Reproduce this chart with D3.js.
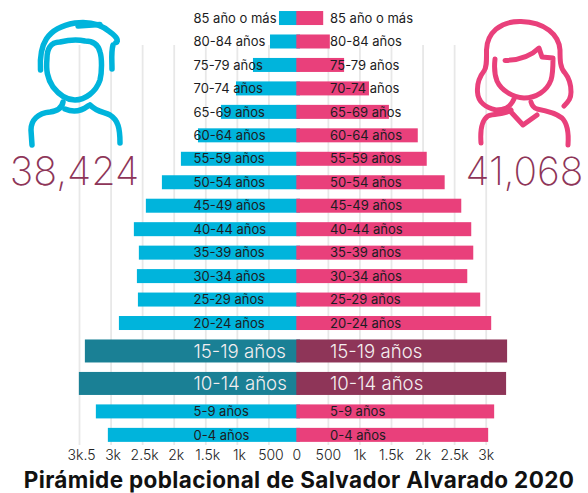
<!DOCTYPE html>
<html>
<head>
<meta charset="utf-8">
<script src="https://cdn.jsdelivr.net/npm/d3@7"></script>
<style>
html, body { margin: 0; padding: 0; background: #fff; }
svg { display: block; font-family: Inter, sans-serif; }
</style>
</head>
<body>
<svg width="588" height="493"></svg>
<script>
// Age groups, top of the pyramid first
var categories = ["85 año o más", "80-84 años", "75-79 años", "70-74 años", "65-69 años", "60-64 años",
    "55-59 años", "50-54 años", "45-49 años", "40-44 años", "35-39 años", "30-34 años",
    "25-29 años", "20-24 años", "15-19 años", "10-14 años", "5-9 años", "0-4 años"];
var men = [333, 475, 745, 1014, 1252, 1616, 1886, 2187, 2441, 2631, 2552, 2583, 2567, 2868, 3407, 3502, 3233, 3043];
var women = [426, 531, 757, 1151, 1467, 1924, 2066, 2350, 2613, 2771, 2803, 2708, 2913, 3087, 3339, 3323, 3134, 3039];
var highlighted = ["15-19 años", "10-14 años"];

var leftTicks = [500, 1000, 1500, 2000, 2500, 3000, 3500];
var leftTickLabels = ["500", "1k", "1.5k", "2k", "2.5k", "3k", "3k.5"];
var rightTicks = [0, 500, 1000, 1500, 2000, 2500, 3000];
var rightTickLabels = ["0", "500", "1k", "1.5k", "2k", "2.5k", "3k"];

var totalMen = "38,424";
var totalWomen = "41,068";
var title = "Pirámide poblacional de Salvador Alvarado 2020";

var svg = d3.select("svg");
var blue = "#00b4dc", pink = "#e9407b", teal = "#1a8095", maroon = "#8e3558";

// The two sides are separate scales, they overlap a little at zero
var xLeft = d3.scaleLinear().domain([0, 3500]).range([300, 79]);
var xRight = d3.scaleLinear().domain([0, 3000]).range([296.3, 485.7]);

// Highlighted rows get a wider band
function isBig(c) { return highlighted.indexOf(c) >= 0; }
var bigBand = 1.384;
var starts = [0].concat(Array.from(d3.cumsum(categories, function(c) { return isBig(c) ? bigBand : 1; })));
var y = d3.scaleLinear().domain([0, starts[starts.length - 1]]).range([6.3, 446.6]);
var gap = 9.46;

function barTop(i) { return y(starts[i]) + gap / 2; }
function barH(i) { return y(starts[i + 1]) - y(starts[i]) - gap; }

// Axes, the tick lines are the grid
function drawAxis(scale, ticks, labels, labelShift) {
    var g = svg.append("g")
        .attr("transform", "translate(0,445)")
        .call(d3.axisBottom(scale)
            .tickValues(ticks)
            .tickFormat(function(d, i) { return labels[i]; })
            .tickSize(-400)
            .tickPadding(5));
    g.select(".domain").remove();
    g.selectAll("line").attr("stroke", "#e8e8e8").attr("stroke-width", 1.8)
        .style("display", function(d) { return d == 0 ? "none" : null; });
    g.selectAll("text").attr("font-size", 14).attr("font-weight", 300).attr("font-family", "Inter")
        .attr("fill", "#222").attr("dx", labelShift);
}
drawAxis(xLeft, leftTicks, leftTickLabels, 2);
drawAxis(xRight, rightTicks, rightTickLabels, 0);

// Bars
svg.append("g").selectAll("rect")
    .data(men)
    .enter().append("rect")
    .attr("x", function(d) { return xLeft(d); })
    .attr("y", function(d, i) { return barTop(i); })
    .attr("width", function(d) { return xLeft(0) - xLeft(d); })
    .attr("height", function(d, i) { return barH(i); })
    .attr("fill", function(d, i) { return isBig(categories[i]) ? teal : blue; });

svg.append("g").selectAll("rect")
    .data(women)
    .enter().append("rect")
    .attr("x", xRight(0))
    .attr("y", function(d, i) { return barTop(i); })
    .attr("width", function(d) { return xRight(d) - xRight(0); })
    .attr("height", function(d, i) { return barH(i); })
    .attr("fill", function(d, i) { return isBig(categories[i]) ? maroon : pink; });

// Row labels on both sides
[193.5, 330].forEach(function(lx) {
    svg.append("g").selectAll("text")
        .data(categories)
        .enter().append("text")
        .attr("x", lx)
        .attr("y", function(d, i) { return barTop(i) + barH(i) / 2; })
        .attr("dy", "0.36em")
        .attr("font-size", function(d) { return isBig(d) ? 18.6 : 13; })
        .attr("font-weight", function(d) { return isBig(d) ? 300 : 400; })
        .attr("fill", function(d) { return isBig(d) ? "#f4eef0" : "#1c1c22"; })
        .text(function(d) { return d; });
});

// Totals
svg.append("text").attr("x", 74.5).attr("y", 185).attr("text-anchor", "middle")
    .attr("font-size", 39.5).attr("font-weight", 200).attr("fill", maroon).text(totalMen);
svg.append("text").attr("x", 524.5).attr("y", 185).attr("text-anchor", "middle")
    .attr("font-size", 39).attr("font-weight", 200).attr("fill", maroon).text(totalWomen);

// Title
svg.append("text").attr("x", 299).attr("y", 488).attr("text-anchor", "middle")
    .attr("font-size", 22.5).attr("font-weight", 700).attr("letter-spacing", 0.35).attr("fill", "#111").text(title);

// Icons
var man = svg.append("g").attr("fill", "none").attr("stroke", blue).attr("stroke-width", 5.5)
    .attr("stroke-linecap", "round").attr("stroke-linejoin", "round");
[
    "M40.5,70 C39,45 46,28 75,23 C90,21 102,25 110,32 C117,37 119,41 116,42.5",
    "M78,26 L100,24.5",
    "M113,45 C111,52 112,60 112,69",
    "M60,42 C50,42 47,50 47,58 C46,70 47,78 53,87 C60,96 68,100 75,100 C85,100 96,92 100,80 C102,72 102,58 100,52 C98,44 92,41 85,41 C77,39 68,40 60,42 Z",
    "M63,102 C62,108 58,111 50,112 C38,113 31,120 31,130 L32,145",
    "M90,105 C97,112 104,112 110,115 C118,120 120,128 120,143",
    "M65,109 C72,112 80,112 88,106"
].forEach(function(p) { man.append("path").attr("d", p); });

var woman = svg.append("g").attr("fill", "none").attr("stroke", pink).attr("stroke-width", 5)
    .attr("stroke-linecap", "round").attr("stroke-linejoin", "round");
[
    "M564,106 C569,101 571,98 571,92 C571,84 569,78 565,73 C560,68 560,60 560,50 C559,35 545,22 521,21.5 C500,21 487,33 486.5,50 C486.5,60 487,67 484,71 C480,76 477,84 477.5,92 C478,102 486,108 496,110 C504,110 510,108 514,99",
    "M495,59 C494,68 495,76 497,81 C501,90 512,97 524,98 C536,98 547,91 551,80 C553,74 553,66 553,58 L542,57 C541,54 540,51 539,48 C532,55 522,60 505,60.5",
    "M531,102 C532,106 534,108 537,109 C548,111 556,113 562,118 C567,123 569,131 568,145",
    "M511,110 C505,115 495,113 488,116 C482,120 480,130 481,143",
    "M511,112 L523,125 L537,115"
].forEach(function(p) { woman.append("path").attr("d", p); });
</script>
</body>
</html>
